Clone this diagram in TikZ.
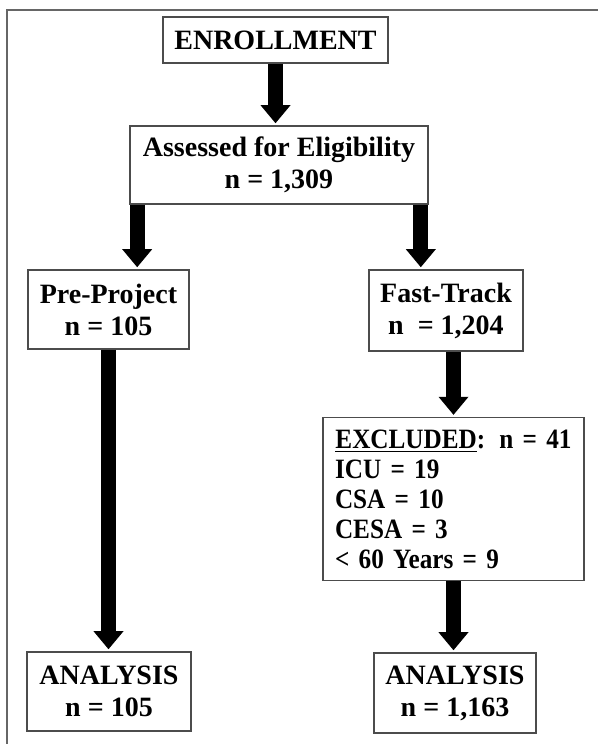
\documentclass[tikz,border=0pt]{standalone}
\usepackage{fontspec}
\setmainfont{Liberation Serif}
\newfontfamily\narrowserif[FakeStretch=0.9]{Liberation Serif}
\usetikzlibrary{arrows.meta}

\begin{document}
\begin{tikzpicture}[x=0.5pt,y=-0.5pt,
    flowbox/.style={draw=black!70,line width=0.8pt,fill=white,align=center,
      font=\bfseries\fontsize{14}{16}\selectfont,inner sep=2pt},
    blockarrow/.style={line width=7.5pt,
      -{Triangle[width=15pt,length=9pt,line width=0pt]},shorten >=1pt}]
  \useasboundingbox (0,0) rectangle (598,744);
  % frame
  \draw[black!60,line width=0.8pt] (7,760) -- (7,10) -- (610,10);

  \node[flowbox,minimum width=112.5pt,minimum height=23pt] (enroll) at (275.5,40) {ENROLLMENT};
  \node[flowbox,minimum width=149pt,minimum height=39pt] (assess) at (279,165)
    {Assessed for Eligibility\\n = 1,309};
  \node[flowbox,minimum width=80.5pt,minimum height=39.5pt] (pre) at (108.5,309.5)
    {Pre-Project\\n = 105};
  \node[flowbox,minimum width=77pt,minimum height=40.5pt] (fast) at (446,310.5)
    {Fast-Track\\n \ = 1,204};
  \node[flowbox,minimum width=130.5pt,minimum height=81pt,inner sep=6pt,
    text width=118.5pt,align=left,font=\narrowserif\bfseries\fontsize{14}{15}\selectfont] (excl) at (453.5,499)
    {\makebox[\linewidth]{\underline{EXCLUDED}: n = 41}\\ICU = 19\\CSA = 10\\CESA = 3\\< 60 Years = 9};
  \node[flowbox,minimum width=82pt,minimum height=39.5pt] (anaL) at (109,691.5)
    {ANALYSIS\\n = 105};
  \node[flowbox,minimum width=81pt,minimum height=40pt] (anaR) at (455,693)
    {ANALYSIS\\n = 1,163};

  \draw[blockarrow] (enroll.south) -- (enroll.south |- assess.north);
  \draw[blockarrow] ([xshift=4pt]assess.south west) -- ([xshift=4pt]assess.south west |- pre.north);
  \draw[blockarrow] ([xshift=-4pt]assess.south east) -- ([xshift=-4pt]assess.south east |- fast.north);
  \draw[blockarrow] (pre.south) -- (pre.south |- anaL.north);
  \draw[blockarrow] (excl.north |- fast.south) -- (excl.north);
  \draw[blockarrow] (excl.south) -- (excl.south |- anaR.north);
\end{tikzpicture}
\end{document}
